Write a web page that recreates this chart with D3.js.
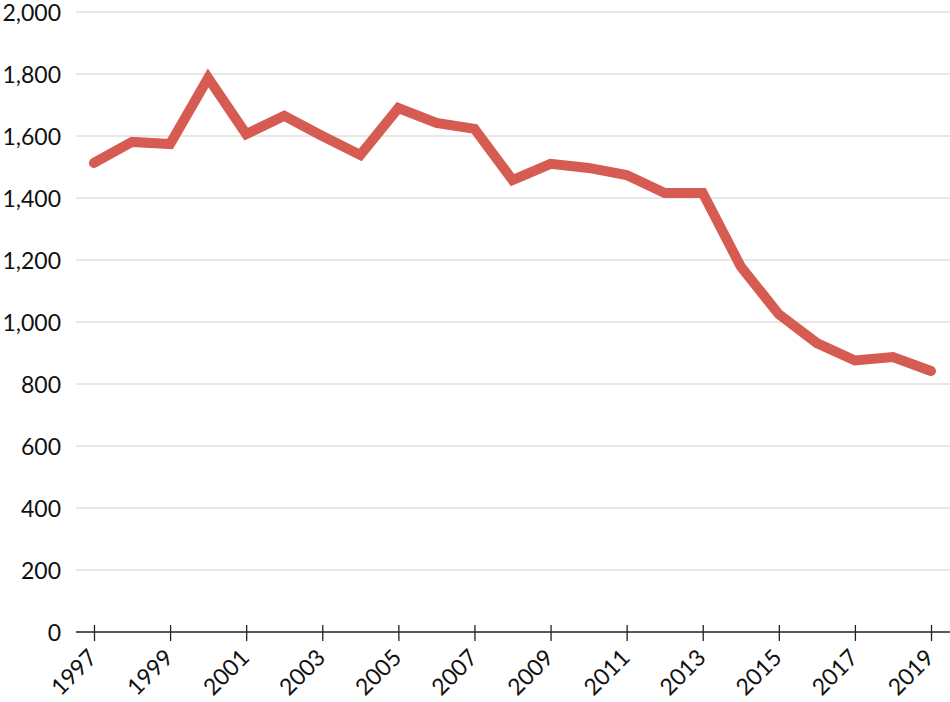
<!DOCTYPE html>
<html>
<head>
<meta charset="utf-8">
<script src="https://cdn.jsdelivr.net/npm/d3@7"></script>
<style>
  body { margin: 0; background: #fff; }
  text { font-family: Lato, "Open Sans", sans-serif; fill: #111; }
</style>
</head>
<body>
<svg id="chart" width="950" height="702"></svg>
<script>
// data
const years = d3.range(1997, 2020);
const values = [1513, 1581, 1574, 1787, 1606, 1665, 1600, 1539, 1690, 1642, 1623,
                1458, 1510, 1497, 1474, 1416, 1416, 1179, 1025, 932, 876, 887, 842];
const yTicks = [0, 200, 400, 600, 800, 1000, 1200, 1400, 1600, 1800, 2000];
const xLabels = [1997, 1999, 2001, 2003, 2005, 2007, 2009, 2011, 2013, 2015, 2017, 2019];

const svg = d3.select('#chart');
const plotLeft = 76, plotRight = 950, plotTop = 12, plotBottom = 632;

// scales
const x = d3.scaleLinear().domain([1997, 2019]).range([94, 931]);
const y = d3.scaleLinear().domain([0, 2000]).range([plotBottom, plotTop]);

// grid lines
svg.append('g')
    .selectAll('line')
    .data(yTicks.filter(d => d > 0))
    .enter().append('line')
    .attr('x1', plotLeft).attr('x2', plotRight)
    .attr('y1', d => y(d)).attr('y2', d => y(d))
    .attr('stroke', '#d0d0d0')
    .attr('stroke-width', 1);

// y labels
svg.append('g')
    .selectAll('text')
    .data(yTicks)
    .enter().append('text')
    .attr('x', 61)
    .attr('y', d => y(d))
    .attr('dy', '0.37em')
    .attr('text-anchor', 'end')
    .style('font-size', '23px')
    .text(d => d3.format(',')(d));

// x axis, ticks only on the labelled years
const xAxis = d3.axisBottom(x)
    .tickValues(xLabels)
    .tickSize(9)
    .tickFormat(d => String(d));

const gx = svg.append('g')
    .attr('transform', 'translate(0,' + plotBottom + ')')
    .call(xAxis);
gx.select('.domain').attr('d', 'M' + plotLeft + ',0H' + plotRight).attr('stroke', '#222').attr('stroke-width', 1.3);
gx.selectAll('.tick line').attr('stroke', '#222').attr('stroke-width', 1.3).attr('y1', -7);
gx.selectAll('.tick text')
    .attr('text-anchor', 'end')
    .attr('x', 0)
    .attr('y', 0)
    .attr('dy', 0)
    .attr('transform', 'translate(4,27) rotate(-45)')
    .style('font-size', '23px')
    .style('font-family', 'Lato, "Open Sans", sans-serif')
    .attr('fill', '#111');

// the line
const line = d3.line()
    .x((d, i) => x(years[i]))
    .y(d => y(d));

svg.append('path')
    .datum(values)
    .attr('d', line)
    .attr('fill', 'none')
    .attr('stroke', '#d55b53')
    .attr('stroke-width', 10)
    .attr('stroke-linejoin', 'miter')
    .attr('stroke-linecap', 'round');
</script>
</body>
</html>
